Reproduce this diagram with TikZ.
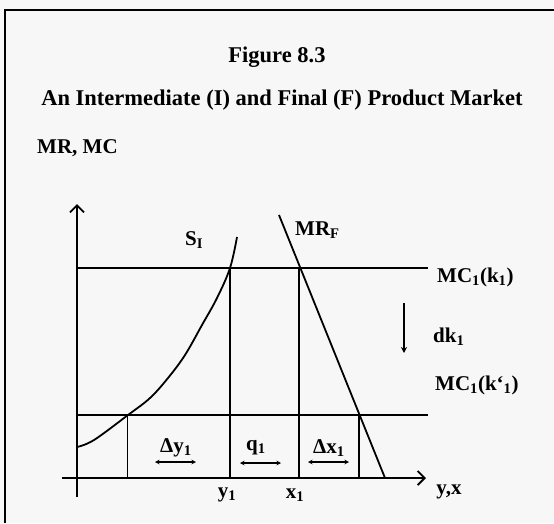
\documentclass[tikz,border=0pt]{standalone}
\usepackage{fontspec}
\setmainfont{Liberation Serif}
\usetikzlibrary{arrows.meta}
\begin{document}
\begin{tikzpicture}[x=1pt,y=-1pt,
  ln/.style={line width=1.8pt, black},
  axisline/.style={line width=1.9pt, black, -{Straight Barb[length=7pt,width=14pt,line width=1.9pt]}},
  dbl/.style={line width=1.4pt, {Stealth[length=4.5pt,width=4.5pt]}-{Stealth[length=4.5pt,width=4.5pt]}},
  ttl/.style={font=\bfseries\fontsize{22.5}{26}\selectfont, inner sep=0pt},
  lbl/.style={font=\bfseries\fontsize{21}{24}\selectfont, inner sep=0pt}]
\useasboundingbox (0,0) rectangle (554,523);
\fill[black!3] (0,0) rectangle (554,523);
\draw[line width=2pt] (5,523) -- (5,10) -- (554,10);
% titles
\node[ttl] (fig) at (277,57) {Figure 8.3};
\node[ttl] (sub) at (282,100) {An Intermediate (I) and Final (F) Product Market};
\node[lbl, anchor=west] (mrmc) at (37,148) {MR, MC};
% axes
\coordinate (ytop) at (77,204);
\coordinate (ybot) at (77,497);
\coordinate (xl) at (62,478);
\coordinate (xr) at (426,478);
\draw[axisline] (ybot) -- (ytop);
\draw[axisline] (xl) -- (xr);
% MC lines
\coordinate (mcAa) at (77,268);
\coordinate (mcAb) at (428,268);
\coordinate (mcBa) at (77,415);
\coordinate (mcBb) at (428,415);
\draw[ln] (mcAa) -- (mcAb);
\draw[ln] (mcBa) -- (mcBb);
% verticals
\coordinate (v1t) at (127.5,415); \coordinate (v1b) at (127.5,478);
\coordinate (v2t) at (230,268);   \coordinate (v2b) at (230,478);
\coordinate (v3t) at (298.6,268); \coordinate (v3b) at (298.6,478);
\coordinate (v4t) at (358.7,415); \coordinate (v4b) at (358.7,478);
\draw[ln] (v1t) -- (v1b);
\draw[ln] (v2t) -- (v2b);
\draw[ln] (v3t) -- (v3b);
\draw[ln] (v4t) -- (v4b);
% supply curve
\draw[ln] plot[smooth, tension=0.6] coordinates {(77,447) (94,440) (128,415) (150,398) (168,378) (185,355) (202,325) (217,298) (230,268) (237,237)};
% MR_F
\coordinate (mrt) at (279,215);
\coordinate (mrb) at (385,478);
\draw[ln] (mrt) -- (mrb);
% dk arrow
\coordinate (dkt) at (404,303);
\coordinate (dkb) at (404,353);
\draw[line width=1.6pt, -{Stealth[length=6pt,width=6pt]}] (dkt) -- (dkb);
% double arrows
\coordinate (a1l) at (155,462); \coordinate (a1r) at (196,462);
\coordinate (a2l) at (240,463); \coordinate (a2r) at (281,463);
\coordinate (a3l) at (308,462); \coordinate (a3r) at (349,462);
\draw[dbl] (a1l) -- (a1r);
\draw[dbl] (a2l) -- (a2r);
\draw[dbl] (a3l) -- (a3r);
% labels
\node[lbl, anchor=west] (sl) at (185,240) {S\textsubscript{I}};
\node[lbl, anchor=west] (mrl) at (295,230) {MR\textsubscript{F}};
\node[lbl, anchor=west] (mcal) at (437,277) {MC\textsubscript{1}(k\textsubscript{1})};
\node[lbl, anchor=west] (dkl) at (433,337) {dk\textsubscript{1}};
\node[lbl, anchor=west] (mcbl) at (435,385) {MC\textsubscript{1}(k`\textsubscript{1})};
\node[lbl] (dyl) at (176,448) {Δy\textsubscript{1}};
\node[lbl] (ql) at (256,448) {q\textsubscript{1}};
\node[lbl] (dxl) at (329,448) {Δx\textsubscript{1}};
\node[lbl] (y1l) at (227,495) {y\textsubscript{1}};
\node[lbl] (x1l) at (295,495) {x\textsubscript{1}};
\node[lbl] (yxl) at (449,492) {y,x};
\end{tikzpicture}
\end{document}
